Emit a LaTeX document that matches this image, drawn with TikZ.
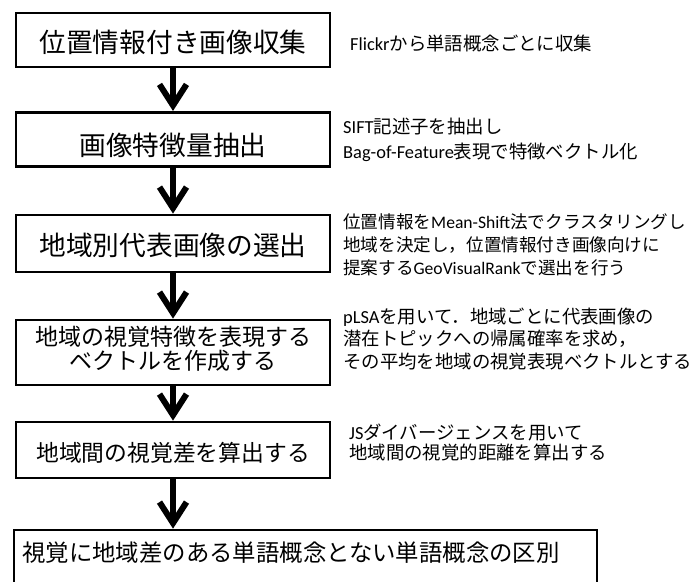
\documentclass[tikz,border=0pt]{standalone}
\usepackage{fontspec}
\setmainfont{Noto Sans CJK JP}
\newfontfamily\lat{Carlito}
\usetikzlibrary{arrows.meta}
\begin{document}
\begin{tikzpicture}[x=1pt,y=-1pt,
  box/.style={draw=black, line width=2.7pt, inner sep=0pt, minimum width=314pt},
  btext/.style={inner sep=0pt, font=\fontsize{26.7}{30}\selectfont},
  btextsm/.style={inner sep=0pt, align=center, font=\fontsize{23}{23.5}\selectfont},
  note/.style={inner sep=0pt, anchor=west, align=left},
  flow/.style={line width=6pt, -{Straight Barb[length=21pt,width=27pt,line width=6pt]}}
]
\useasboundingbox (0,0) rectangle (700,581);
\clip (0,0) rectangle (700,581);
\fill[white] (0,0) rectangle (700,581);

% boxes
\node[box, minimum height=54pt] (b1) at (173,40) {};
\node[btext] (t1) at (173,42.5) {位置情報付き画像収集};

\node[box, minimum height=54.4pt] (b2) at (173,139.5) {};
\node[btext] (t2) at (173,145) {画像特徴量抽出};

\node[box, minimum height=57pt] (b3) at (173,243.5) {};
\node[btext] (t3) at (173,245) {地域別代表画像の選出};

\node[box, minimum height=65pt] (b4) at (173,352.5) {};
\node[btextsm] (t4) at (173,349) {地域の視覚特徴を表現する\\ベクトルを作成する};

\node[box, minimum height=56pt] (b5) at (173,450) {};
\node[btextsm, font=\fontsize{22.8}{24}\selectfont] (t5) at (173,453) {地域間の視覚差を算出する};

\node[box, minimum width=583pt, minimum height=80pt] (b6) at (305.5,570) {};
\coordinate (b6in) at (b5.south |- b6.north);
\node[inner sep=0pt, anchor=west, font=\fontsize{23.4}{26}\selectfont] (t6) at (22,553) {視覚に地域差のある単語概念とない単語概念の区別};

% connectors
\draw[flow] (b1.south) -- (b2.north);
\draw[flow] (b2.south) -- (b3.north);
\draw[flow] (b3.south) -- (b4.north);
\draw[flow] (b4.south) -- (b5.north);
\draw[flow] (b5.south) -- (b6in);

% annotations
\node[note, font=\fontsize{18.4}{23}\selectfont] (a1) at (350,43) {{\lat Flickr}から単語概念ごとに収集};
\node[note, font=\fontsize{18.4}{25}\selectfont] (a2) at (343,139.5) {{\lat SIFT}記述子を抽出し\\{\lat Bag-of-Feature}表現で特徴ベクトル化};
\node[note, font=\fontsize{17.6}{23}\selectfont] (a3) at (343,245) {位置情報を{\lat Mean-Shift}法でクラスタリングし\\地域を決定し，位置情報付き画像向けに\\提案する{\lat GeoVisualRank}で選出を行う};
\node[note, font=\fontsize{18.4}{22.5}\selectfont] (a4) at (343,339) {{\lat pLSA}を用いて．地域ごとに代表画像の\\潜在トピックへの帰属確率を求め，\\その平均を地域の視覚表現ベクトルとする};
\node[note, font=\fontsize{18.4}{20}\selectfont] (a5) at (349,442.5) {{\lat JS}ダイバージェンスを用いて\\地域間の視覚的距離を算出する};
\end{tikzpicture}
\end{document}
